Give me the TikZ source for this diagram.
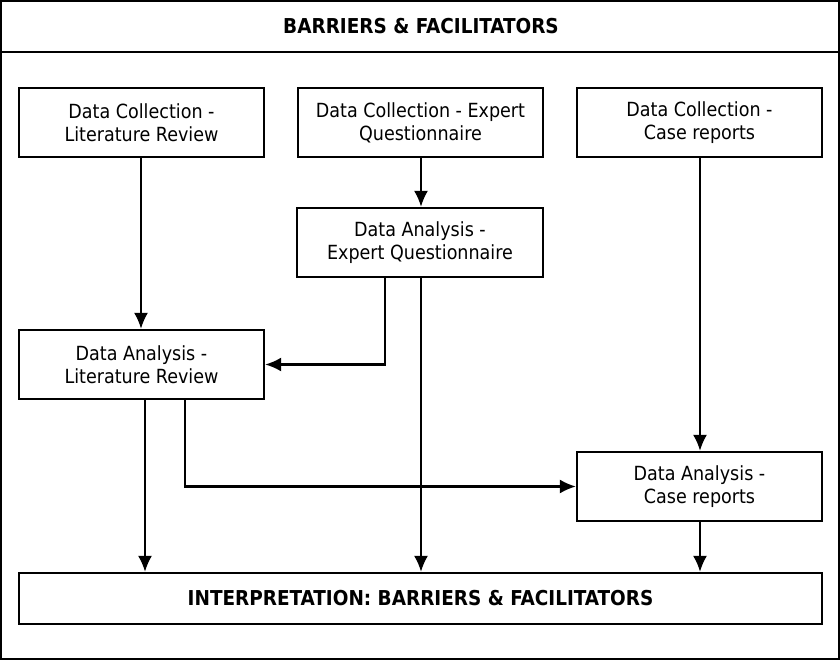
\documentclass[tikz,border=0pt]{standalone}
\usepackage{fontspec}
\setmainfont{DejaVu Sans Condensed}
\usetikzlibrary{arrows.meta}
\begin{document}
\begin{tikzpicture}[x=1pt,y=-1pt,
  box/.style={draw,line width=2.2pt,minimum width=245pt,minimum height=69pt,align=center,inner sep=0pt,font=\fontsize{19.5}{23}\selectfont},
  arr/.style={line width=2.2pt,-{Latex[length=16pt,width=14pt]}}]
\useasboundingbox (0,0) rectangle (840,660);
\draw[line width=2.4pt] (1,1) rectangle (839,659);
\draw[line width=2.4pt] (0,52) -- (840,52);
\node[font=\fontsize{20.5}{24}\selectfont\bfseries] (title) at (421,26) {BARRIERS \& FACILITATORS};
\node[box] (a) at (141.5,122.5) {Data Collection -\\Literature Review};
\node[box] (b) at (420.5,122.5) {Data Collection - Expert\\Questionnaire};
\node[box] (c) at (699.5,122.5) {Data Collection -\\Case reports};
\node[box,minimum width=246pt] (d) at (420,242.5) {Data Analysis -\\Expert Questionnaire};
\node[box] (e) at (141.5,364.5) {Data Analysis -\\Literature Review};
\node[box] (f) at (699.5,486.5) {Data Analysis -\\Case reports};
\node[box,minimum width=803pt,minimum height=51pt,font=\fontsize{20.5}{24}\selectfont\bfseries] (g) at (420.5,598.5) {INTERPRETATION: BARRIERS \& FACILITATORS};
\draw[arr] (a.south -| 141,0) -- (e.north -| 141,0);
\draw[arr] (b.south -| 421,0) -- (d.north -| 421,0);
\draw[arr] (c.south -| 700,0) -- (f.north -| 700,0);
\draw[arr] (d.south -| 385,0) |- (e.east);
\draw[arr] (d.south -| 421,0) -- (g.north -| 421,0);
\draw[arr] (e.south -| 145,0) -- (g.north -| 145,0);
\draw[arr] (e.south -| 185,0) |- (f.west);
\draw[arr] (f.south -| 700,0) -- (g.north -| 700,0);
\end{tikzpicture}
\end{document}
